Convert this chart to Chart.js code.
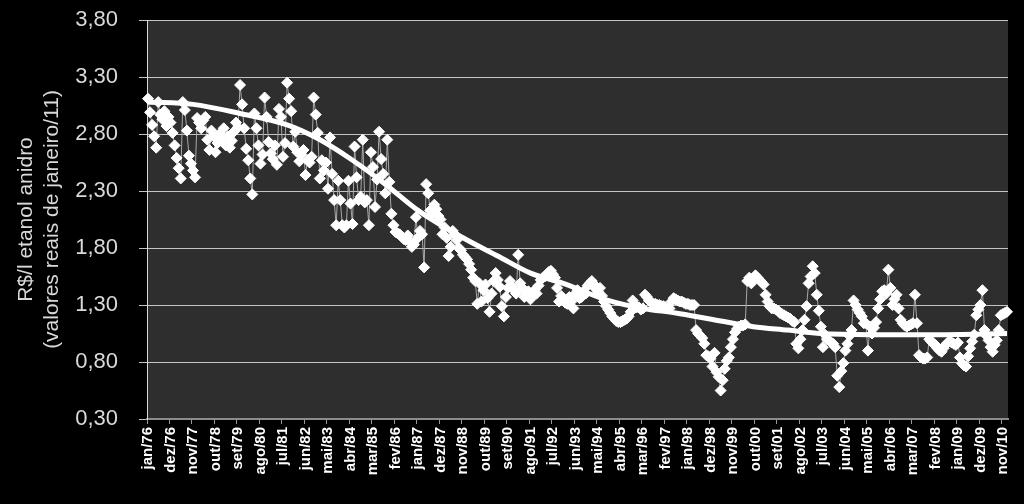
<!DOCTYPE html>
<html>
<head>
<meta charset="utf-8">
<script src="https://cdn.jsdelivr.net/npm/chart.js@4.4.0/dist/chart.umd.min.js"></script>
<style>
  html, body { margin: 0; padding: 0; background: #000; }
  canvas { display: block; }
</style>
</head>
<body>
<canvas id="chart" width="1024" height="504"></canvas>
<script>
// monthly categories jan/76 .. jan/11
const monthNames = ['jan', 'fev', 'mar', 'abr', 'mai', 'jun', 'jul', 'ago', 'set', 'out', 'nov', 'dez'];
const months = [];
for (let y = 1976; y <= 2011; y++) {
    for (let i = 0; i < 12; i++) {
        if (y === 2011 && i > 0) break;
        months.push(monthNames[i] + '/' + String(y).slice(2));
    }
}

const tickLabels = ['jan/76', 'dez/76', 'nov/77', 'out/78', 'set/79', 'ago/80', 'jul/81', 'jun/82', 'mai/83',
    'abr/84', 'mar/85', 'fev/86', 'jan/87', 'dez/87', 'nov/88', 'out/89', 'set/90', 'ago/91', 'jul/92',
    'jun/93', 'mai/94', 'abr/95', 'mar/96', 'fev/97', 'jan/98', 'dez/98', 'nov/99', 'out/00', 'set/01',
    'ago/02', 'jul/03', 'jun/04', 'mai/05', 'abr/06', 'mar/07', 'fev/08', 'jan/09', 'dez/09', 'nov/10'];

const yTicks = [0.30, 0.80, 1.30, 1.80, 2.30, 2.80, 3.30, 3.80];

// R$/l, one value per month
const price1976to1980 = [
    3.11, 2.99, 2.88, 2.78, 2.68, 3.08, 2.97, 2.93, 3.00, 2.87, 2.95, 2.90,
    2.81, 2.70, 2.59, 2.50, 2.41, 3.08, 3.01, 2.83, 2.61, 2.54, 2.48, 2.42,
    2.94, 2.90, 2.85, 2.92, 2.95, 2.75, 2.66, 2.83, 2.78, 2.64, 2.72, 2.80,
    2.76, 2.85, 2.70, 2.78, 2.68, 2.74, 2.82, 2.90, 2.86, 3.23, 3.06, 2.85,
    2.67, 2.57, 2.41, 2.27, 2.98, 2.85, 2.70, 2.54, 2.62, 3.12, 2.95, 2.73
];
const price1981to1990 = [
    2.63, 2.58, 2.70, 2.53, 3.02, 2.95, 2.60, 2.72, 3.25, 3.11, 3.00, 2.69,
    2.82, 2.64, 2.56, 2.62, 2.66, 2.44, 2.57, 2.55, 2.60, 3.12, 2.97, 2.81,
    2.41, 2.57, 2.48, 2.55, 2.32, 2.77, 2.45, 2.22, 2.00, 2.39, 2.22, 2.00,
    1.98, 2.00, 2.39, 2.19, 2.01, 2.69, 2.42, 2.22, 2.25, 2.75, 2.20, 2.22,
    2.00, 2.64, 2.51, 2.16, 2.40, 2.82, 2.58, 2.45, 2.28, 2.75, 2.38, 2.10,
    2.00, 1.94, 1.93, 1.92, 1.90, 1.88, 1.87, 1.91, 1.86, 1.81, 1.83, 2.07,
    1.89, 1.95, 1.92, 1.63, 2.36, 2.28, 2.13, 2.10, 2.18, 2.14, 2.08, 2.05,
    1.92, 1.98, 1.89, 1.73, 1.81, 1.95, 1.92, 1.87, 1.80, 1.78, 1.74, 1.72,
    1.70, 1.66, 1.61, 1.54, 1.51, 1.31, 1.49, 1.33, 1.43, 1.48, 1.36, 1.24,
    1.40, 1.51, 1.58, 1.52, 1.46, 1.29, 1.20, 1.37, 1.45, 1.51, 1.46, 1.43
];
const price1991to2000 = [
    1.40, 1.74, 1.49, 1.45, 1.37, 1.39, 1.42, 1.35, 1.38, 1.43, 1.40, 1.47,
    1.52, 1.54, 1.55, 1.57, 1.59, 1.60, 1.57, 1.54, 1.45, 1.33, 1.38, 1.36,
    1.32, 1.31, 1.37, 1.33, 1.27, 1.40, 1.43, 1.36, 1.37, 1.42, 1.40, 1.47,
    1.49, 1.51, 1.48, 1.44, 1.42, 1.45, 1.38, 1.33, 1.29, 1.26, 1.23, 1.20,
    1.18, 1.16, 1.15, 1.15, 1.16, 1.17, 1.18, 1.20, 1.24, 1.34, 1.30, 1.28,
    1.28, 1.26, 1.27, 1.39, 1.37, 1.34, 1.32, 1.31, 1.31, 1.30, 1.30, 1.29,
    1.29, 1.28, 1.27, 1.27, 1.33, 1.36, 1.35, 1.34, 1.33, 1.33, 1.32, 1.31,
    1.31, 1.30, 1.30, 1.30, 1.08, 1.05, 1.03, 1.01, 0.96, 0.86, 0.85, 0.83,
    0.76, 0.88, 0.71, 0.67, 0.55, 0.64, 0.74, 0.81, 0.84, 0.93, 1.00, 1.06,
    1.09, 1.11, 1.12, 1.12, 1.13, 1.51, 1.54, 1.49, 1.52, 1.56, 1.54, 1.52
];
const price2001to2011 = [
    1.50, 1.48, 1.39, 1.33, 1.29, 1.27, 1.27, 1.26, 1.25, 1.23, 1.22, 1.21,
    1.20, 1.19, 1.18, 1.16, 1.15, 0.96, 0.92, 1.00, 1.08, 1.17, 1.29, 1.49,
    1.55, 1.64, 1.58, 1.39, 1.25, 1.11, 0.93, 1.04, 1.00, 0.99, 0.97, 0.96,
    0.93, 0.68, 0.58, 0.72, 0.79, 0.90, 0.96, 1.03, 1.08, 1.34, 1.30, 1.26,
    1.23, 1.20, 1.14, 1.14, 0.90, 1.11, 1.05, 1.10, 1.15, 1.27, 1.35, 1.42,
    1.43, 1.40, 1.61, 1.45, 1.30, 1.35, 1.39, 1.27, 1.17, 1.14, 1.12, 1.11,
    1.12, 1.13, 1.14, 1.39, 1.14, 0.86, 0.84, 0.83, 0.83, 0.84, 1.00, 0.98,
    0.96, 0.95, 0.92, 0.90, 0.89, 0.92, 0.95, 0.97, 0.98, 0.97, 0.96, 0.95,
    0.97, 0.84, 0.79, 0.77, 0.76, 0.85, 0.92, 0.98, 1.04, 1.21, 1.26, 1.30,
    1.43, 1.08, 1.03, 0.99, 0.93, 0.89, 0.95, 0.99, 1.08, 1.21, 1.22, 1.23,
    1.24
];
const prices = [...price1976to1980, ...price1981to1990, ...price1991to2000, ...price2001to2011];

// trend line, read at a few months
const trendMonths = ['jan/76', 'nov/77', 'out/79', 'set/81', 'dez/82', 'mai/84', 'set/85', 'jan/87', 'nov/88',
    'abr/90', 'ago/91', 'dez/92', 'out/94', 'mar/96', 'jul/97', 'nov/98', 'set/00', 'fev/02', 'jun/03',
    'jun/05', 'fev/08', 'jan/11'];
const trendValues = [3.08, 3.06, 2.98, 2.88, 2.76, 2.57, 2.36, 2.13, 1.89, 1.73, 1.58, 1.49, 1.34, 1.27,
    1.23, 1.18, 1.11, 1.08, 1.05, 1.04, 1.04, 1.05];

const plotBackground = {
    id: 'plotBackground',
    beforeDraw(chart) {
        const { ctx, chartArea: a } = chart;
        ctx.save();
        ctx.fillStyle = '#2e2e2e';
        ctx.fillRect(a.left, a.top, a.right - a.left, a.bottom - a.top);
        ctx.restore();
    }
};

let ctx = document.getElementById('chart');

new Chart(ctx, {
    type: 'line',
    data: {
        labels: months,
        datasets: [
            {
                label: 'tendência',
                data: trendMonths.map((m, i) => ({ x: m, y: trendValues[i] })),
                borderColor: '#ffffff',
                borderWidth: 5,
                pointRadius: 0,
                cubicInterpolationMode: 'monotone',
                fill: false
            },
            {
                label: 'etanol anidro',
                data: prices,
                borderColor: '#a8a8a8',
                borderWidth: 1,
                pointStyle: 'rectRot',
                pointRadius: 5.5,
                pointBackgroundColor: '#ffffff',
                pointBorderColor: '#ffffff',
                pointBorderWidth: 1,
                fill: false
            }
        ]
    },
    options: {
        responsive: false,
        animation: false,
        layout: { padding: { left: 0, right: 16, top: 20, bottom: 0 } },
        plugins: {
            legend: { display: false },
            tooltip: { enabled: false }
        },
        scales: {
            x: {
                type: 'category',
                offset: true,
                afterFit: (scale) => {
                    scale.height = 85;
                    scale.paddingLeft = 0;
                    scale.paddingRight = 0;
                },
                grid: {
                    offset: true,
                    drawOnChartArea: false,
                    tickLength: 5,
                    color: (c) => tickLabels.includes(months[c.index]) ? '#9a9a9a' : 'rgba(0,0,0,0)'
                },
                border: { display: true, color: '#8c8c8c', width: 2 },
                ticks: {
                    autoSkip: false,
                    minRotation: 90,
                    maxRotation: 90,
                    padding: 3,
                    color: '#ffffff',
                    font: { family: "'Liberation Sans', Arial, sans-serif", size: 15, weight: 'bold' },
                    callback: function (value) {
                        const lab = this.getLabelForValue(value);
                        return tickLabels.includes(lab) ? lab : '';
                    }
                }
            },
            y: {
                min: 0.3,
                max: 3.8,
                afterFit: (scale) => {
                    scale.width = 147;
                    scale.paddingTop = 0;
                    scale.paddingBottom = 0;
                },
                afterBuildTicks: (axis) => { axis.ticks = yTicks.map(v => ({ value: v })); },
                grid: {
                    color: '#c4c4c4',
                    lineWidth: 1,
                    tickLength: 8
                },
                border: { display: true, color: '#d8d8d8', width: 1 },
                ticks: {
                    padding: 21,
                    color: '#d9d9d9',
                    font: { family: "'Liberation Sans', Arial, sans-serif", size: 22 },
                    callback: (v) => v.toFixed(2).replace('.', ',')
                },
                title: {
                    display: true,
                    text: ['R$/l etanol anidro', '(valores reais de janeiro/11)'],
                    color: '#d9d9d9',
                    padding: { top: 13, bottom: 0 },
                    font: { family: "'Liberation Sans', Arial, sans-serif", size: 21, lineHeight: 1.25 }
                }
            }
        }
    },
    plugins: [plotBackground]
});
</script>
</body>
</html>
